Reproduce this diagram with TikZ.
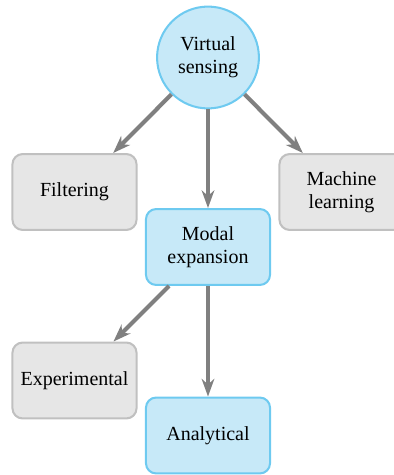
\documentclass[tikz,border=0pt]{standalone}
\usepackage{fontspec}
\setmainfont{Liberation Serif}
\usetikzlibrary{arrows.meta}
\definecolor{nodeblue}{RGB}{199,233,248}
\definecolor{edgeblue}{RGB}{110,202,240}
\definecolor{nodegrey}{RGB}{230,230,230}
\definecolor{edgegrey}{RGB}{192,192,192}
\definecolor{arrowgrey}{RGB}{128,128,128}
\begin{document}
\begin{tikzpicture}[x=0.54pt, y=-0.54pt, >={Stealth[length=9.5pt,width=6.8pt,inset=3pt]},
  round node/.style={circle,draw=edgeblue,fill=nodeblue,line width=1.1pt,minimum size=55pt,inner sep=0pt,align=center},
  blue node/.style={rectangle,rounded corners=5.5pt,draw=edgeblue,fill=nodeblue,line width=1.1pt,minimum width=67pt,minimum height=41pt,align=center},
  grey node/.style={rectangle,rounded corners=5.5pt,draw=edgegrey,fill=nodegrey,line width=1.1pt,minimum width=67pt,minimum height=41pt,align=center}]
\useasboundingbox (0,0) rectangle (394,475);
\begin{scope}[every node/.style={font=\fontsize{10.8}{12.4}\selectfont}]
\node[round node] (vs) at (208,57.5) {Virtual\\sensing};
\node[grey node] (filt) at (74.5,192) {Filtering};
\node[blue node] (modal) at (208,247) {Modal\\expansion};
\node[grey node] (ml) at (341.5,192) {Machine\\learning};
\node[grey node] (exp) at (74.5,380.5) {Experimental};
\node[blue node] (ana) at (208,435.5) {Analytical};
\end{scope}
\begin{scope}[draw=arrowgrey, line width=2.2pt]
\draw[->] (vs) -- (filt);
\draw[->] (vs) -- (modal);
\draw[->] (vs) -- (ml);
\draw[->] (modal) -- (exp);
\draw[->] (modal) -- (ana);
\end{scope}
\end{tikzpicture}
\end{document}
